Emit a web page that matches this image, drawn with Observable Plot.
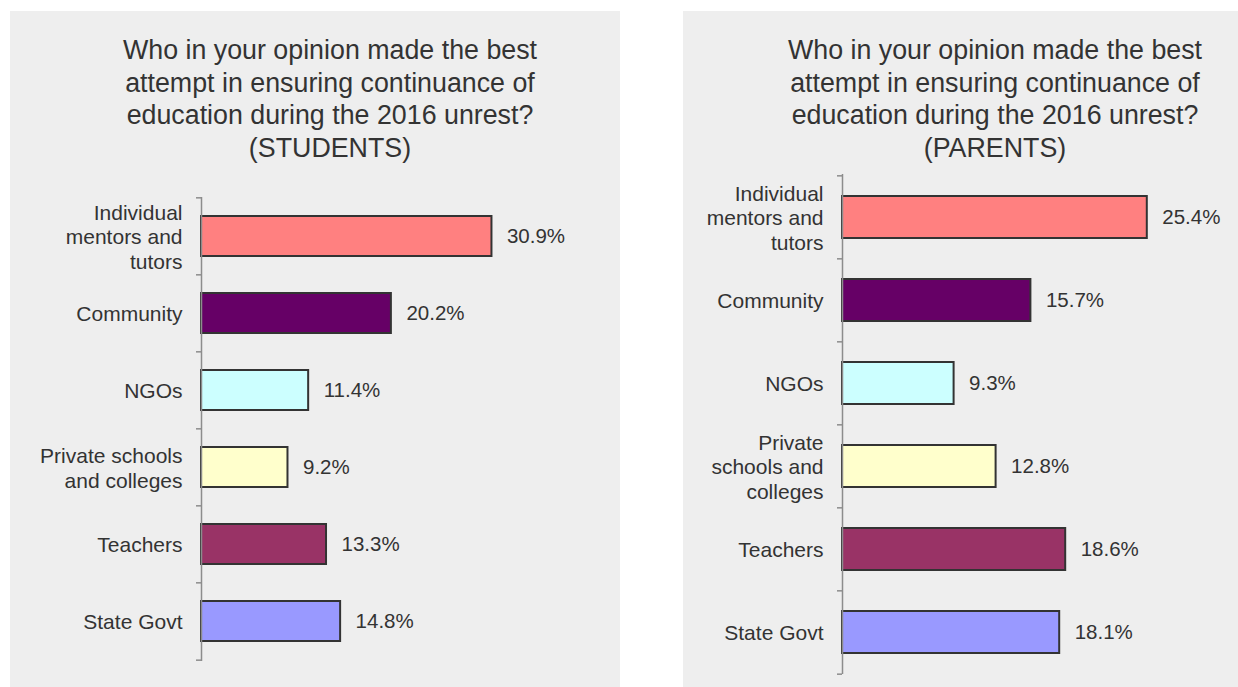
<!DOCTYPE html>
<html>
<head>
<meta charset="utf-8">
<script src="https://cdn.jsdelivr.net/npm/d3@7"></script>
<script src="https://cdn.jsdelivr.net/npm/@observablehq/plot@0.6"></script>
<style>
  body { margin: 0; width: 1238px; height: 687px; background: #ffffff; position: relative; overflow: hidden;
         font-family: "Liberation Sans", Arial, sans-serif; }
  .panel { position: absolute; background: #eeeeee; }
  .title { position: absolute; text-align: center; color: #333333; font-size: 26.8px; line-height: 32.6px; }
  .panel svg { position: absolute; left: 0; top: 0; }
</style>
</head>
<body>
<div class="panel" id="left" style="left:10px; top:11px; width:610px; height:676px;">
  <div class="title" style="left:20px; width:600px; top:23px;">Who in your opinion made the best<br>attempt in ensuring continuance of<br>education during the 2016 unrest?<br>(STUDENTS)</div>
</div>
<div class="panel" id="right" style="left:683px; top:11px; width:555px; height:676px;">
  <div class="title" style="left:12px; width:600px; top:23px;">Who in your opinion made the best<br>attempt in ensuring continuance of<br>education during the 2016 unrest?<br>(PARENTS)</div>
</div>
<script>
const categories = ["Individual mentors and tutors", "Community", "NGOs", "Private schools and colleges", "Teachers", "State Govt"];
const studentLabels = ["Individual\nmentors and\ntutors", "Community", "NGOs", "Private schools\nand colleges", "Teachers", "State Govt"];
const parentLabels = ["Individual\nmentors and\ntutors", "Community", "NGOs", "Private\nschools and\ncolleges", "Teachers", "State Govt"];
const studentValues = [30.9, 20.2, 11.4, 9.2, 13.3, 14.8];
const parentValues = [25.4, 15.7, 9.3, 12.8, 18.6, 18.1];
const barColors = ["#FF8080", "#660066", "#CCFFFF", "#FFFFCC", "#993366", "#9999FF"];

function chart({values, labels, width, height, mt, mb, ml, mr, xmax, padding, labelDx, valueDx}) {
  const data = categories.map((c, i) => ({cat: c, value: values[i], label: labels[i]}));
  const step = (height - mt - mb) / categories.length;
  return Plot.plot({
    width, height,
    marginTop: mt, marginBottom: mb, marginLeft: ml, marginRight: mr,
    style: {background: "transparent", fontFamily: "'Liberation Sans', Arial, sans-serif", color: "#333333", overflow: "visible"},
    x: {domain: [0, xmax], axis: null},
    y: {domain: categories, paddingInner: padding, paddingOuter: padding / 2, axis: null},
    color: {domain: categories, range: barColors},
    marks: [
      Plot.barX(data, {x: "value", y: "cat", fill: "cat", stroke: "#333333", strokeWidth: 2}),
      Plot.ruleX([0], {stroke: "#8c8c8c", strokeWidth: 1.5}),
      Plot.axisY(categories, {tickSize: 5, fill: "none", stroke: "#8c8c8c", strokeWidth: 1.5, dy: -step / 2}),
      Plot.axisY(categories.slice(-1), {tickSize: 5, fill: "none", stroke: "#8c8c8c", strokeWidth: 1.5, dy: step / 2}),
      Plot.text(data, {x: 0, y: "cat", text: "label", textAnchor: "end", dx: labelDx, fontSize: 21, lineHeight: 1.17, fill: "#333333"}),
      Plot.text(data, {x: "value", y: "cat", text: d => d.value.toFixed(1) + "%", textAnchor: "start", dx: valueDx, fontSize: 20.5, fill: "#333333"})
    ]
  });
}

document.getElementById("left").appendChild(chart({
  values: studentValues, labels: studentLabels,
  width: 610, height: 676, mt: 186, mb: 26, ml: 191, mr: 90, xmax: 35, padding: 0.48,
  labelDx: -19, valueDx: 15
}));
document.getElementById("right").appendChild(chart({
  values: parentValues, labels: parentLabels,
  width: 555, height: 676, mt: 163, mb: 13, ml: 159, mr: 36, xmax: 30, padding: 0.5,
  labelDx: -19, valueDx: 15
}));
</script>
</body>
</html>
